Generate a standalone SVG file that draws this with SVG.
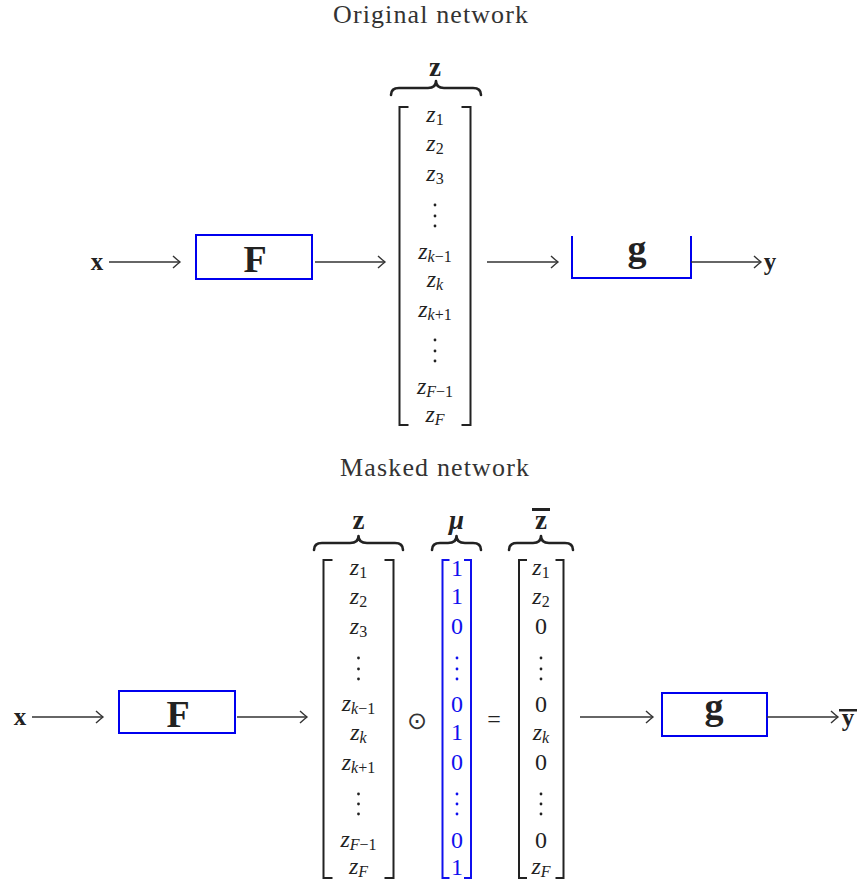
<svg xmlns="http://www.w3.org/2000/svg" width="861" height="884" viewBox="0 0 861 884">
<style>
text{font-family:"Liberation Serif","Times New Roman",serif;fill:#222}
.title{font-size:26px;text-anchor:middle;fill:#333}
.m{font-size:24px;font-style:italic;text-anchor:middle}
.d{font-size:24px;font-style:normal;text-anchor:middle}
.sb{font-size:16px}
.up{font-style:normal}
.bold{font-weight:bold;text-anchor:middle}
.lbl{font-size:27px}
.io{font-size:25px}
.big{font-size:38px}
.blue{fill:#1010ee}
.br{fill:none;stroke:#222;stroke-width:2}
.brb{fill:none;stroke:#1010ee;stroke-width:2}
.brace{fill:none;stroke:#222;stroke-width:2.6;stroke-linecap:round;stroke-linejoin:round}
.box{fill:none;stroke:#0000ee;stroke-width:2}
.arr{fill:none;stroke:#333;stroke-width:1.4;marker-end:url(#ah)}
.dot{fill:#222}
.dotb{fill:#1010ee}
</style>
<defs>
<marker id="ah" markerWidth="12" markerHeight="14" refX="10" refY="7" orient="auto" markerUnits="userSpaceOnUse">
<path d="M3,1 Q8,5.5 10,7 Q8,8.5 3,13" fill="none" stroke="#333" stroke-width="1.4"/>
</marker>
</defs>

<g id="title-top"><text class="title" x="430.5" y="23" textLength="195" lengthAdjust="spacing">Original network</text></g>

<g id="top-x"><text class="bold io" x="97" y="270">x</text></g>

<g id="top-F">
<rect class="box" x="196" y="235" width="116" height="44" stroke-width="2.6"/>
<text class="bold big" x="255" y="272">F</text>
</g>

<g id="top-z">
<text class="bold lbl" x="435" y="76">z</text>
<path class="brace" d="M391,95 Q391,88 399,88 L428,88 Q436,88 436,81 Q436,88 444,88 L473,88 Q481,88 481,95"/>
<path class="br" d="M408.5,107 H399.5 V425 H408.5"/>
<path class="br" d="M461.5,107 H470.5 V425 H461.5"/>
<text class="m" x="435" y="122">z<tspan class="sb up" dy="3">1</tspan></text>
<text class="m" x="435" y="151">z<tspan class="sb up" dy="3">2</tspan></text>
<text class="m" x="435" y="181">z<tspan class="sb up" dy="3">3</tspan></text>
<circle class="dot" cx="435" cy="205" r="1.4"/><circle class="dot" cx="435" cy="216" r="1.4"/><circle class="dot" cx="435" cy="226" r="1.4"/>
<text class="m" x="435" y="259">z<tspan class="sb" dy="3">k</tspan><tspan class="sb up">−1</tspan></text>
<text class="m" x="435" y="287">z<tspan class="sb" dy="3">k</tspan></text>
<text class="m" x="435" y="317">z<tspan class="sb" dy="3">k</tspan><tspan class="sb up">+1</tspan></text>
<circle class="dot" cx="435" cy="340" r="1.4"/><circle class="dot" cx="435" cy="351" r="1.4"/><circle class="dot" cx="435" cy="361" r="1.4"/>
<text class="m" x="435" y="394">z<tspan class="sb" dy="3">F</tspan><tspan class="sb up">−1</tspan></text>
<text class="m" x="435" y="422">z<tspan class="sb" dy="3">F</tspan></text>
</g>

<g id="top-g">
<path class="box" d="M572,236 V278 H691 V236"/>
<text class="bold big" x="637" y="261">g</text>
</g>

<g id="top-y"><text class="bold io" x="770" y="270">y</text></g>

<g id="title-bottom"><text class="title" x="434.5" y="476" textLength="189" lengthAdjust="spacing">Masked network</text></g>

<g id="bot-x"><text class="bold io" x="20" y="725">x</text></g>

<g id="bot-F">
<rect class="box" x="119" y="691" width="116" height="42"/>
<text class="bold big" x="178" y="727">F</text>
</g>

<g id="bot-z">
<text class="bold lbl" x="358.5" y="529">z</text>
<path class="brace" d="M314,550 Q314,543 322,543 L350,543 Q358.5,543 358.5,536 Q358.5,543 367,543 L395,543 Q403,543 403,550"/>
<path class="br" d="M332.5,560 H323.5 V878 H332.5"/>
<path class="br" d="M384.5,560 H393.5 V878 H384.5"/>
<text class="m" x="358.5" y="575">z<tspan class="sb up" dy="3">1</tspan></text>
<text class="m" x="358.5" y="604">z<tspan class="sb up" dy="3">2</tspan></text>
<text class="m" x="358.5" y="634">z<tspan class="sb up" dy="3">3</tspan></text>
<circle class="dot" cx="358.5" cy="658" r="1.4"/><circle class="dot" cx="358.5" cy="669" r="1.4"/><circle class="dot" cx="358.5" cy="679" r="1.4"/>
<text class="m" x="358.5" y="711">z<tspan class="sb" dy="3">k</tspan><tspan class="sb up">−1</tspan></text>
<text class="m" x="358.5" y="740">z<tspan class="sb" dy="3">k</tspan></text>
<text class="m" x="358.5" y="770">z<tspan class="sb" dy="3">k</tspan><tspan class="sb up">+1</tspan></text>
<circle class="dot" cx="358.5" cy="794" r="1.4"/><circle class="dot" cx="358.5" cy="804" r="1.4"/><circle class="dot" cx="358.5" cy="814" r="1.4"/>
<text class="m" x="358.5" y="847">z<tspan class="sb" dy="3">F</tspan><tspan class="sb up">−1</tspan></text>
<text class="m" x="358.5" y="874">z<tspan class="sb" dy="3">F</tspan></text>
</g>

<g id="odot"><text x="417" y="729" style="font-family:'DejaVu Sans',sans-serif;font-size:24px;text-anchor:middle;fill:#333">⊙</text></g>

<g id="bot-mu">
<text class="bold lbl" x="456.5" y="529" font-style="italic">μ</text>
<path class="brace" d="M432,550 Q432,543 440,543 L448,543 Q456.5,543 456.5,536 Q456.5,543 465,543 L473,543 Q481,543 481,550"/>
<path class="brb" d="M449.5,560 H442.5 V878 H449.5"/>
<path class="brb" d="M464,560 H471 V878 H464"/>
<text class="d blue" x="457" y="576">1</text>
<text class="d blue" x="457" y="604">1</text>
<text class="d blue" x="457" y="634">0</text>
<circle class="dotb" cx="457" cy="658" r="1.4"/><circle class="dotb" cx="457" cy="669" r="1.4"/><circle class="dotb" cx="457" cy="679" r="1.4"/>
<text class="d blue" x="457" y="712">0</text>
<text class="d blue" x="457" y="740">1</text>
<text class="d blue" x="457" y="770">0</text>
<circle class="dotb" cx="457" cy="794" r="1.4"/><circle class="dotb" cx="457" cy="804" r="1.4"/><circle class="dotb" cx="457" cy="814" r="1.4"/>
<text class="d blue" x="457" y="848">0</text>
<text class="d blue" x="457" y="875">1</text>
</g>

<g id="equals"><text class="d" x="494" y="727">=</text></g>

<g id="bot-zbar">
<text class="bold lbl" x="541" y="529">z</text>
<rect x="532" y="508" width="18" height="3" fill="#222"/>
<path class="brace" d="M509,550 Q509,543 517,543 L533,543 Q541,543 541,536 Q541,543 549,543 L565,543 Q573,543 573,550"/>
<path class="br" d="M527,560 H519 V878 H527"/>
<path class="br" d="M555.5,560 H563.5 V878 H555.5"/>
<text class="m" x="541" y="575">z<tspan class="sb up" dy="3">1</tspan></text>
<text class="m" x="541" y="604">z<tspan class="sb up" dy="3">2</tspan></text>
<text class="d" x="541" y="634">0</text>
<circle class="dot" cx="541" cy="658" r="1.4"/><circle class="dot" cx="541" cy="669" r="1.4"/><circle class="dot" cx="541" cy="679" r="1.4"/>
<text class="d" x="541" y="712">0</text>
<text class="m" x="541" y="740">z<tspan class="sb" dy="3">k</tspan></text>
<text class="d" x="541" y="770">0</text>
<circle class="dot" cx="541" cy="794" r="1.4"/><circle class="dot" cx="541" cy="804" r="1.4"/><circle class="dot" cx="541" cy="814" r="1.4"/>
<text class="d" x="541" y="848">0</text>
<text class="m" x="541" y="874">z<tspan class="sb" dy="3">F</tspan></text>
</g>

<g id="bot-g">
<rect class="box" x="662" y="693" width="105" height="43"/>
<text class="bold big" x="714" y="719">g</text>
</g>

<g id="bot-ybar">
<text class="bold io" x="848" y="726">y</text>
<rect x="839" y="709" width="18" height="2.5" fill="#222"/>
</g>

<g id="connectors">
<line class="arr" x1="109" y1="262" x2="180" y2="262"/>
<line class="arr" x1="315" y1="262" x2="385" y2="262"/>
<line class="arr" x1="487" y1="262" x2="558" y2="262"/>
<line class="arr" x1="691" y1="262" x2="761" y2="262"/>
<line class="arr" x1="32" y1="717" x2="103" y2="717"/>
<line class="arr" x1="237" y1="717" x2="307" y2="717"/>
<line class="arr" x1="580" y1="717" x2="653" y2="717"/>
<line class="arr" x1="767" y1="717" x2="838" y2="717"/>
</g>
</svg>
